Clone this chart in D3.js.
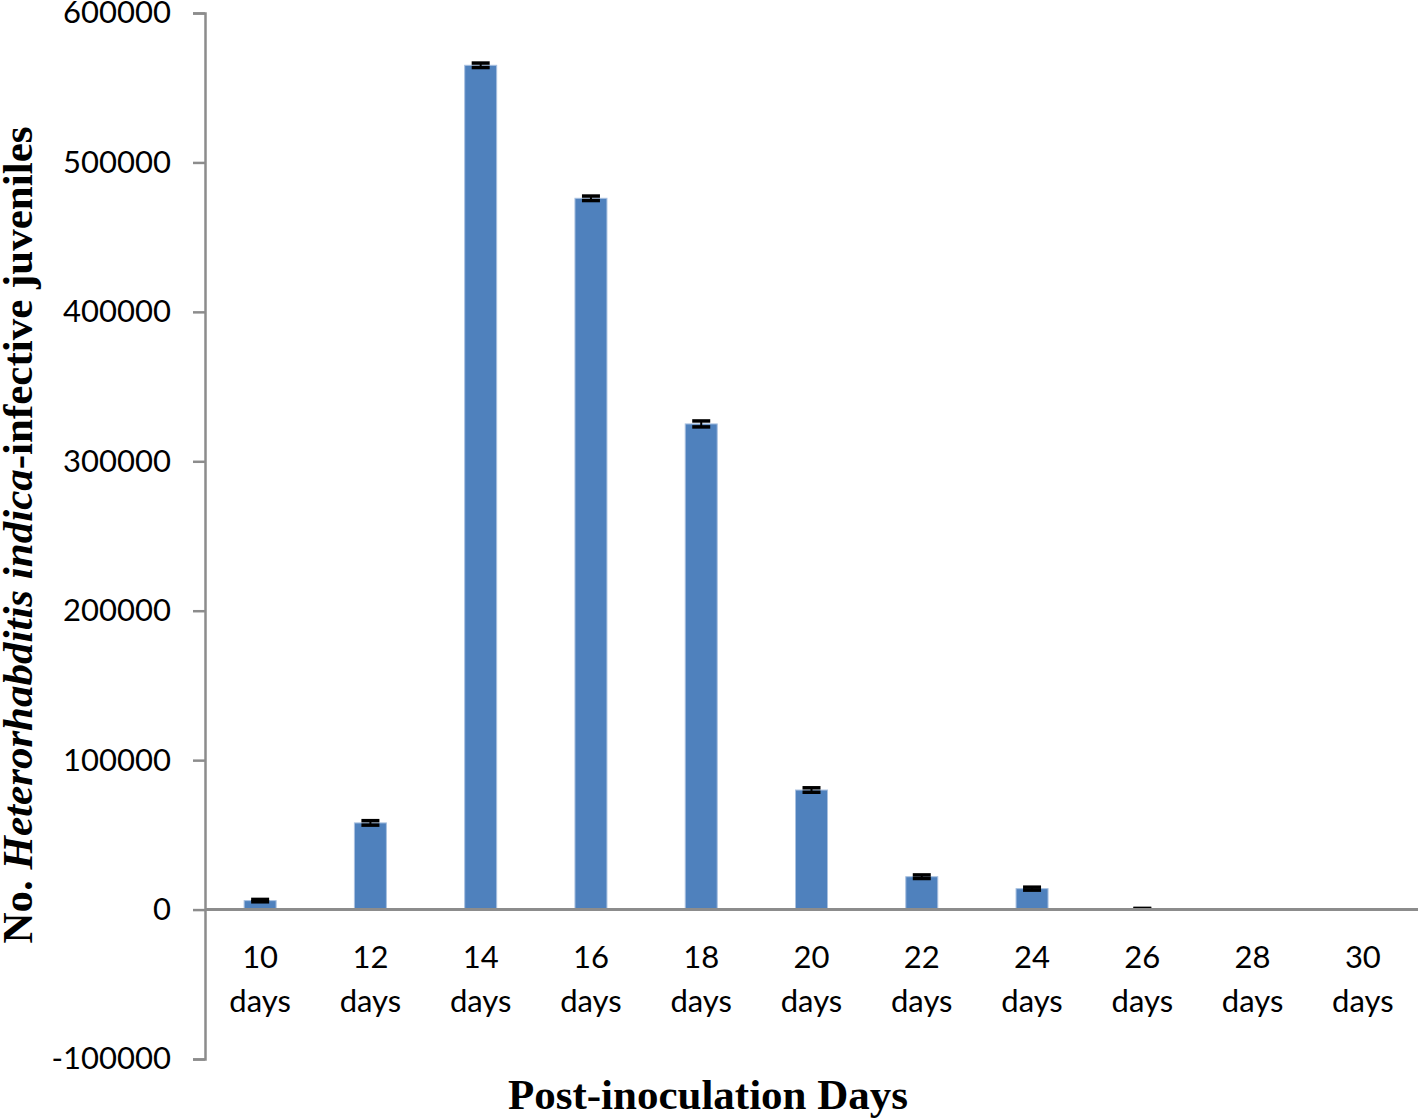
<!DOCTYPE html>
<html>
<head>
<meta charset="utf-8">
<script src="https://cdn.jsdelivr.net/npm/d3@7"></script>
<style>
  body { margin: 0; background: #fff; }
  svg { display: block; }
</style>
</head>
<body>
<div class="container"></div>
<script>
// chart data
const days = ['10', '12', '14', '16', '18', '20', '22', '24', '26', '28', '30'];
const counts = [6000, 58000, 565000, 476000, 325000, 80000, 22000, 14000, 500, 0, 0];
const errors = [800, 1500, 1500, 1500, 2000, 1500, 1200, 1000, 300, 0, 0];
const yTicks = [-100000, 0, 100000, 200000, 300000, 400000, 500000, 600000];

const w = 1418;
const h = 1119;

const margin = {
    top: 13,
    right: 0,
    bottom: 60,
    left: 205
};

const svg = d3.select('.container')
    .append('svg')
    .attr('width', w)
    .attr('height', h)
    .attr('viewBox', [0, 0, w, h]);

const x = d3.scaleBand()
    .domain(days)
    .range([margin.left, w - margin.right]);

const y = d3.scaleLinear()
    .domain([-100000, 600000])
    .range([h - margin.bottom, margin.top]);

const barW = 32;

// y axis
const yAxis = svg.append('g')
    .attr('transform', `translate(${margin.left},0)`)
    .call(d3.axisLeft(y).tickValues(yTicks).tickSize(12).tickPadding(22).tickFormat(d => String(d)));
yAxis.select('.domain').attr('stroke', '#8c8c8c').attr('stroke-width', 2.5);
yAxis.selectAll('.tick line').attr('stroke', '#8c8c8c').attr('stroke-width', 2.5);
yAxis.selectAll('.tick text')
    .attr('fill', '#000')
    .style('font-family', 'Lato, sans-serif')
    .style('font-size', '31px');

// bars
svg.append('g')
    .selectAll('rect')
    .data(days)
    .join('rect')
    .attr('x', (d, i) => x(d) + x.bandwidth() / 2 - barW / 2)
    .attr('y', (d, i) => y(counts[i]))
    .attr('width', barW)
    .attr('height', (d, i) => y(0) - y(counts[i]))
    .attr('fill', '#4f81bd')
    .attr('stroke', '#a9c1e0')
    .attr('stroke-width', 1);

// error bars
const err = svg.append('g');
days.forEach((d, i) => {
    if (counts[i] <= 0) return;
    const cx = x(d) + x.bandwidth() / 2;
    const top = y(counts[i] + errors[i]);
    const bot = y(counts[i] - errors[i]);
    err.append('line')
        .attr('x1', cx).attr('x2', cx)
        .attr('y1', top).attr('y2', bot)
        .attr('stroke', '#000').attr('stroke-width', 2);
    [top, bot].forEach(yy => {
        err.append('line')
            .attr('x1', cx - 9).attr('x2', cx + 9)
            .attr('y1', yy).attr('y2', yy)
            .attr('stroke', '#000').attr('stroke-width', 3.5);
    });
});

// x axis line at zero
svg.append('line')
    .attr('x1', margin.left)
    .attr('x2', w)
    .attr('y1', y(0))
    .attr('y2', y(0))
    .attr('stroke', '#8c8c8c')
    .attr('stroke-width', 3);

// category labels, two lines
const lab = svg.append('g')
    .selectAll('text')
    .data(days)
    .join('text')
    .attr('text-anchor', 'middle')
    .style('font-family', 'Lato, sans-serif')
    .style('font-size', '31px')
    .attr('fill', '#000');
lab.append('tspan')
    .attr('x', d => x(d) + x.bandwidth() / 2)
    .attr('y', 968)
    .text(d => d);
lab.append('tspan')
    .attr('x', d => x(d) + x.bandwidth() / 2)
    .attr('y', 1012)
    .text('days');

// axis titles
svg.append('text')
    .attr('x', 708)
    .attr('y', 1109)
    .attr('text-anchor', 'middle')
    .style('font-family', '"Liberation Serif", "Times New Roman", serif')
    .style('font-weight', 'bold')
    .style('font-size', '43px')
    .text('Post-inoculation Days');

const yTitle = svg.append('text')
    .attr('transform', 'translate(32,535) rotate(-90)')
    .attr('text-anchor', 'middle')
    .style('font-family', '"Liberation Serif", "Times New Roman", serif')
    .style('font-weight', 'bold')
    .style('font-size', '43px');
yTitle.append('tspan').text('No. ');
yTitle.append('tspan').style('font-style', 'italic').text('Heterorhabditis indica');
yTitle.append('tspan').text('-infective juveniles');
</script>
</body>
</html>
